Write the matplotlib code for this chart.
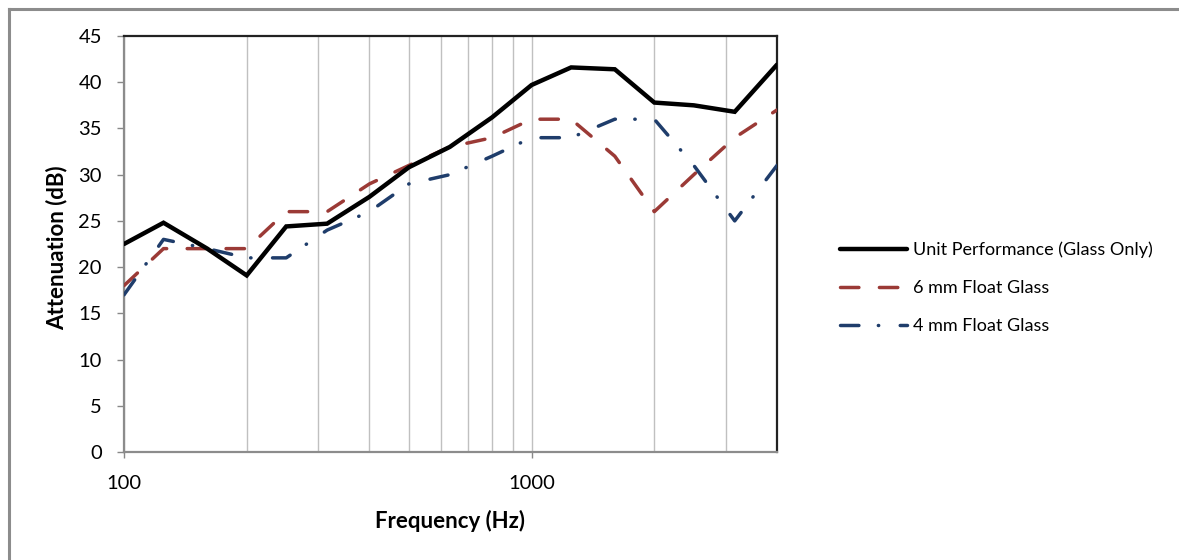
import matplotlib.pyplot as plt
from matplotlib.lines import Line2D
from matplotlib.ticker import FixedLocator, NullFormatter

plt.rcParams['font.family'] = ['Lato', 'DejaVu Sans']

# One-third octave band centre frequencies (Hz)
freqs = [100, 125, 160, 200, 250, 315, 400, 500, 630, 800,
         1000, 1250, 1600, 2000, 2500, 3150, 4000]

# Attenuation in dB for each band
unit_glass = [22.5, 24.8, 22.0, 19.1, 24.4, 24.7, 27.6, 30.8, 33.0, 36.2,
              39.7, 41.6, 41.4, 37.8, 37.5, 36.8, 41.9]
float_6mm = [18, 22, 22, 22, 26, 26, 29, 31, 33, 34,
             36, 36, 32, 26, 30, 34, 37]
float_4mm = [17, 23, 22, 21, 21, 24, 26, 29, 30, 32,
             34, 34, 36, 36, 31, 25, 31]

series_names = ['Unit Performance (Glass Only)', '6 mm Float Glass', '4 mm Float Glass']
x_ticks = [100, 1000]
x_tick_labels = ['100', '1000']
y_ticks = list(range(0, 50, 5))

W, H = 1179, 560
fig = plt.figure(figsize=(W / 100, H / 100), dpi=100)
ax = fig.add_axes([124 / W, (H - 452) / H, (777 - 124) / W, (452 - 36) / H])

ax.plot(freqs, unit_glass, color='black', lw=3.2, solid_capstyle='round',
        solid_joinstyle='miter', label=series_names[0], zorder=4)
ax.plot(freqs, float_6mm, color='#9b3a36', lw=2.5, linestyle=(0, (5.3, 5.9)),
        dash_capstyle='round', label=series_names[1], zorder=3)
ax.plot(freqs, float_4mm, color='#1f3d6b', lw=2.5,
        linestyle=(0, (5.3, 5.6, 0.1, 6.2)),
        dash_capstyle='round', label=series_names[2], zorder=3)

ax.set_xscale('log')
ax.set_xlim(100, 4000)
ax.set_ylim(0, 45)
ax.set_xticks(x_ticks)
ax.set_xticklabels(x_tick_labels)
ax.xaxis.set_minor_locator(FixedLocator([200, 300, 400, 500, 600, 700, 800, 900, 2000, 3000]))
ax.xaxis.set_minor_formatter(NullFormatter())
ax.set_yticks(y_ticks)

# vertical gridlines only
ax.grid(True, axis='x', which='both', color='#c0c0c0', lw=1.0, zorder=0)
ax.tick_params(axis='x', which='minor', length=0)
ax.tick_params(axis='x', which='major', length=4.5, width=1, color='#888888',
               pad=12, labelsize=14.5)
ax.tick_params(axis='y', length=5, width=1, color='#888888', pad=11, labelsize=14.5)

for side in ['left', 'bottom']:
    ax.spines[side].set_color('#8c8c8c')
    ax.spines[side].set_linewidth(1.6)
for side in ['top', 'right']:
    ax.spines[side].set_color('#222222')
    ax.spines[side].set_linewidth(1.6)

ax.set_xlabel('Frequency (Hz)', fontsize=16, fontweight='bold', va='center')
ax.xaxis.set_label_coords(0.5, -0.166)
ax.set_ylabel('Attenuation (dB)', fontsize=16, fontweight='bold', va='center')
ax.yaxis.set_label_coords(-0.1035, 0.49)

fig.legend(loc='center left', bbox_to_anchor=(840 / W, (H - 288) / H),
           frameon=False, fontsize=13, handlelength=3.7, handletextpad=0.35,
           labelspacing=1.22, borderpad=0, borderaxespad=0)

# grey border around the chart area
fig.add_artist(Line2D([8.5 / W, 8.5 / W], [0, (H - 8.5) / H], color='#8c8c8c', lw=2.2))
fig.add_artist(Line2D([8.5 / W, 1], [(H - 8.5) / H, (H - 8.5) / H], color='#8c8c8c', lw=2.2))

fig.savefig('out.png', dpi=100)
